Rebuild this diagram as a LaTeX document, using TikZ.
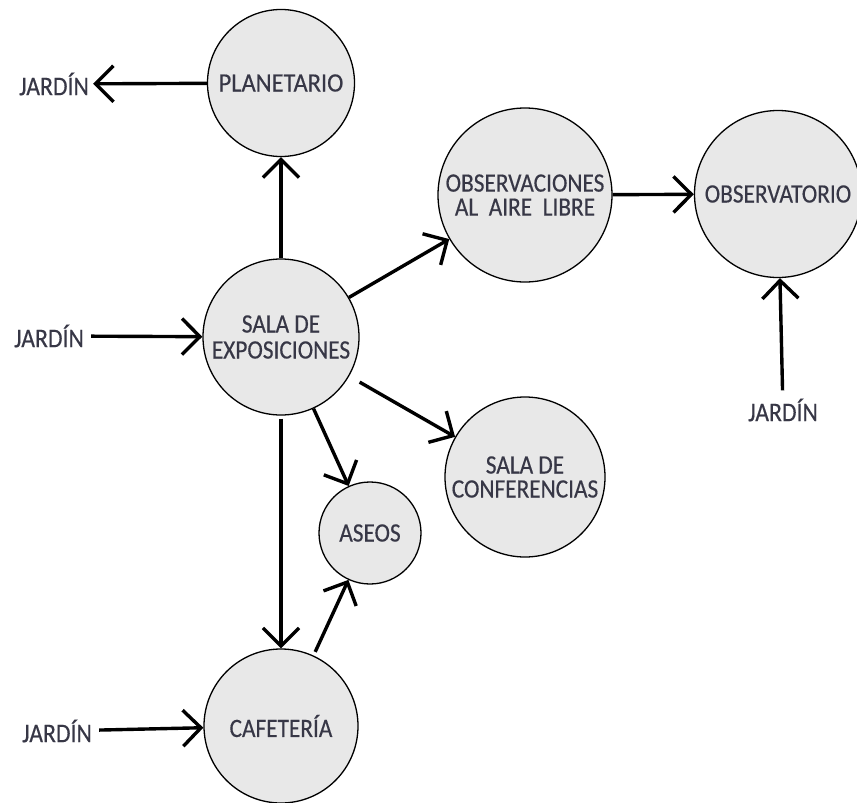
\documentclass[tikz,border=0pt]{standalone}
\usepackage{fontspec}
\setmainfont{Carlito}[FakeStretch=0.88,FakeBold=0.4]
\usetikzlibrary{arrows.meta}
\definecolor{roomfill}{RGB}{232,232,232}
\definecolor{txt}{RGB}{55,55,70}
\begin{document}
\begin{tikzpicture}[x=1pt,y=-1pt,
  room/.style={circle,draw=black,line width=1.3pt,fill=roomfill,inner sep=0pt,align=center,
    font=\fontsize{26.5}{24}\selectfont,text=txt},
  lbl/.style={font=\fontsize{27}{26}\selectfont,text=txt,inner sep=4pt},
  conn/.style={line width=3.4pt,-{Straight Barb[length=18pt,width=36pt]}}]
\useasboundingbox (0,0) rectangle (857,803);
% rooms
\node[room,minimum size=147pt] (plan) at (281,83) {\scalebox{1.05}[1]{PLANETARIO}};
\node[room,minimum size=156pt,font=\fontsize{26.5}{26}\selectfont] (sala) at (281,337) {SALA DE\\EXPOSICIONES};
\node[room,minimum size=174pt] (obs) at (525,195) {OBSERVACIONES\\AL\ \ AIRE\ \ LIBRE};
\node[room,minimum size=167pt] (obsv) at (778,194) {OBSERVATORIO};
\node[room,minimum size=160pt] (conf) at (525,477) {SALA DE\\CONFERENCIAS};
\node[room,minimum size=102pt] (aseos) at (370,533) {ASEOS};
\node[room,minimum size=154pt] (cafe) at (281,726) {CAFETERÍA};
% jardin labels
\node[lbl] (j1) at (54,84) {JARDÍN};
\node[lbl] (j2) at (49,336) {JARDÍN};
\node[lbl] (j3) at (57,731) {JARDÍN};
\node[lbl] (j4) at (783,410) {JARDÍN};
% connectors
\draw[conn] (plan) -- (j1);
\draw[conn,shorten <=3pt] (j2) -- (sala);
\draw[conn,shorten <=3pt] (j3) -- (cafe);
\draw[conn,shorten <=4pt] (j4) -- (obsv);
\draw[conn] (sala) -- (plan);
\draw[conn] (sala) -- (obs);
\draw[conn] (obs) -- (obsv);
\draw[conn,shorten <=12pt] (sala) -- (conf);
\draw[conn] (sala) -- (aseos);
\draw[conn,shorten <=3pt] (sala) -- (cafe);
\draw[conn,shorten <=4pt] (cafe) -- (aseos);
\end{tikzpicture}
\end{document}
